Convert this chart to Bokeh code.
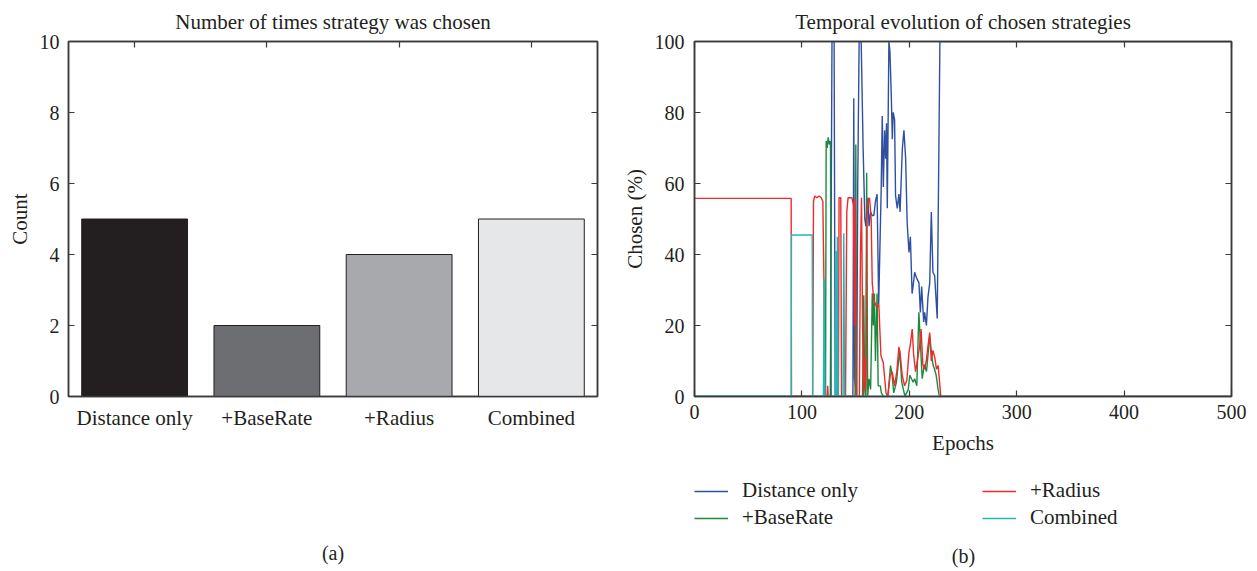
from bokeh.plotting import figure
from bokeh.models import (FactorRange, Range1d, LinearAxis, CategoricalAxis, FixedTicker,
                          Legend, LegendItem, CustomJSTickFormatter, Label)
from bokeh.layouts import row, column
from bokeh.embed import file_html
from bokeh.resources import INLINE

FONT = "Liberation Serif"
INK = "#231f20"
AX = "#3a3a3a"

# ---------------- data: panel (a) ----------------
strategies = ["Distance only", "+BaseRate", "+Radius", "Combined"]
counts = [5, 2, 4, 5]
bar_colors = ["#231f20", "#6d6e71", "#a7a9ac", "#e6e7e8"]

# ---------------- data: panel (b) ----------------
dist_x = [0, 126.5, 128, 130, 131, 147.5, 148.3, 149, 151, 152, 153.3, 155.2, 157, 158.6, 159.5,
          160.5, 161.5, 162.5, 164, 165.4, 167, 168.5, 170, 171.5, 173.8, 174.8, 175.8, 177, 178,
          178.8, 179.5, 181, 182, 183.3, 184.2, 185, 186.3, 187.2, 188.8, 190.3, 191.4, 193.5, 195,
          196.6, 198, 199.7, 201, 202.6, 203.5, 205, 206.6, 209, 210.3, 211.5, 213.4, 214.3, 215.9,
          217.4, 219, 220.5, 222, 223.6, 225, 226, 228.5, 500]
dist_y = [0, 0, 100, 100, 0, 0, 84, 5, 0, 60, 100, 100, 70, 50, 48,
          52, 56, 48, 52, 51, 51, 55, 57, 26, 58, 79, 59, 75, 67,
          77, 53, 100, 97, 84, 72.5, 80, 78, 56.6, 53, 57, 52, 69.7, 75,
          67, 49, 40.6, 45, 29, 31, 35, 33.5, 32, 23.7, 31, 21, 23.7, 20,
          28, 32, 52, 35, 34, 27, 22, 100, 100]

base_x = [0, 122, 122.6, 123.5, 124.5, 125.5, 126.6, 127.3, 149.5, 150.2, 151, 156.5, 157.6, 158.5,
          159.5, 160.3, 161.2, 162.5, 164, 165.5, 166.5, 167.5, 168.5, 170, 171, 173, 174, 176, 180,
          182.5, 184, 185.5, 188, 191, 193, 196, 199, 200.5, 203.6, 205, 207, 208.9, 210.5, 212, 214,
          216, 219, 220.5, 222, 223.5, 225, 226.6, 228, 500]
base_y = [0, 0, 72, 70, 73, 71, 72, 0, 0, 71, 0, 0, 28.5, 2,
          0, 63, 0, 5, 2, 29, 20, 29, 10, 29, 3, 3, 1, 0, 0,
          8.7, 6, 1, 4, 13, 4, 0, 2, 6, 4, 5, 3, 23.7, 14, 5, 9,
          7, 17, 12.5, 9, 7.7, 6, 2.5, 0, 0]

rad_x = [0, 90, 90.3, 110, 110.8, 112, 114, 116, 118, 119.5, 120.5, 121.2, 123.5, 124, 124.5, 132,
         132.8, 133.4, 134, 134.6, 136.2, 136.9, 140.6, 141.8, 143, 146.5, 148, 149, 149.7, 150.5,
         153.5, 154.5, 155.5, 156.5, 157.5, 158.5, 159.5, 160.5, 161.5, 163, 164.5, 165.5, 167, 170,
         171.6, 173.6, 175.8, 178.3, 180, 182.2, 184, 186.3, 188.4, 190.3, 191.5, 193.4, 195.6, 197.7,
         199.7, 200.9, 202.7, 204, 205.8, 208, 209.5, 211, 212.6, 214.2, 215.8, 217.3, 219, 220.5,
         222, 223.7, 225.3, 226.9, 229.3, 500]
rad_y = [55.8, 55.8, 0, 0, 55, 56.5, 56, 56.5, 56, 55, 33, 0, 0, 3, 0, 0,
         16, 0, 0, 56, 56, 0, 0, 52, 56, 56, 54, 20, 56, 0,
         0, 40, 56, 20, 0, 11, 2, 50, 55, 56, 50, 32, 27, 25,
         26, 11.5, 9.5, 1, 0, 6, 7, 3, 7, 14, 12, 6, 3, 4.5,
         12.5, 14.5, 19, 12, 7, 11, 14, 19, 9, 7.7, 10, 14, 18, 10,
         13, 11, 7.7, 8.7, 0, 0]

comb_x = [0, 90, 90.3, 109.6, 110, 120, 120.8, 121.4, 131, 131.8, 132.4, 133, 133.8, 138.3, 139,
          139.8, 500]
comb_y = [0, 0, 45.5, 45.5, 0, 0, 33, 0, 0, 41, 0, 45, 0, 0, 46,
          0, 0]

series_names = ["Distance only", "+BaseRate", "+Radius", "Combined"]
series_colors = ["#2f4fa3", "#1b8a3c", "#ee2a2a", "#22b8b8"]

empty_fmt = CustomJSTickFormatter(code="return ''")


def style_axis(ax, size="20px"):
    ax.axis_line_color = AX
    ax.axis_line_width = 1.5
    ax.major_tick_line_color = AX
    ax.major_tick_line_width = 1.2
    ax.major_tick_in = 6
    ax.major_tick_out = 0
    ax.minor_tick_line_color = None
    ax.major_label_text_font = FONT
    ax.major_label_text_font_size = size
    ax.major_label_text_color = INK
    ax.axis_label_text_font = FONT
    ax.axis_label_text_font_size = "21px"
    ax.axis_label_text_font_style = "normal"
    ax.axis_label_text_color = INK


def mirror_axis(ax):
    style_axis(ax)
    ax.major_label_standoff = 0


def style_title(p):
    p.title.text_font = FONT
    p.title.text_font_size = "21px"
    p.title.text_font_style = "normal"
    p.title.text_color = INK
    p.title.align = "center"
    p.title.standoff = 15


# ---------------- panel (a) ----------------
p1 = figure(x_range=FactorRange(factors=strategies), y_range=Range1d(0, 10),
            frame_width=529, frame_height=355,
            min_border_left=68, min_border_right=13, min_border_top=41, min_border_bottom=172,
            output_backend="svg", toolbar_location=None,
            title="Number of times strategy was chosen")
p1.vbar(x=strategies, top=counts, width=0.8, fill_color=bar_colors,
        line_color=INK, line_width=1)
p1.xgrid.visible = False
p1.ygrid.visible = False
p1.outline_line_color = AX
p1.outline_line_width = 1.5
style_title(p1)

style_axis(p1.xaxis[0], "21px")
p1.xaxis[0].major_tick_line_color = None
p1.xaxis[0].major_label_standoff = 9
p1.xaxis[0].axis_label = "(a)"
p1.xaxis[0].axis_label_text_font_size = "20px"
p1.xaxis[0].axis_label_standoff = 109
style_axis(p1.yaxis[0])
p1.yaxis[0].ticker = FixedTicker(ticks=[0, 2, 4, 6, 8, 10])
p1.yaxis[0].axis_label = "Count"
p1.yaxis[0].major_label_standoff = 9

top1 = CategoricalAxis(formatter=empty_fmt)
mirror_axis(top1)
p1.add_layout(top1, "above")
right1 = LinearAxis(ticker=FixedTicker(ticks=[0, 2, 4, 6, 8, 10]), formatter=empty_fmt)
mirror_axis(right1)
p1.add_layout(right1, "right")

# ---------------- panel (b) ----------------
p2 = figure(x_range=Range1d(0, 500), y_range=Range1d(0, 100),
            frame_width=537, frame_height=355,
            min_border_left=84, min_border_right=18, min_border_top=39, min_border_bottom=66,
            output_backend="svg", toolbar_location=None,
            title="Temporal evolution of chosen strategies")
p2.xgrid.visible = False
p2.ygrid.visible = False
p2.outline_line_color = AX
p2.outline_line_width = 1.5
style_title(p2)

style_axis(p2.xaxis[0])
p2.xaxis[0].ticker = FixedTicker(ticks=[0, 100, 200, 300, 400, 500])
p2.xaxis[0].axis_label = "Epochs"
p2.xaxis[0].major_label_standoff = 8
p2.xaxis[0].axis_label_standoff = 9
style_axis(p2.yaxis[0])
p2.yaxis[0].ticker = FixedTicker(ticks=[0, 20, 40, 60, 80, 100])
p2.yaxis[0].axis_label = "Chosen (%)"
p2.yaxis[0].major_label_standoff = 10

top2 = LinearAxis(ticker=FixedTicker(ticks=[0, 100, 200, 300, 400, 500]), formatter=empty_fmt)
mirror_axis(top2)
p2.add_layout(top2, "above")
right2 = LinearAxis(ticker=FixedTicker(ticks=[0, 20, 40, 60, 80, 100]), formatter=empty_fmt)
mirror_axis(right2)
p2.add_layout(right2, "right")

xs = [dist_x, base_x, rad_x, comb_x]
ys = [dist_y, base_y, rad_y, comb_y]
for col, x, y in zip(series_colors, xs, ys):
    p2.line(x, y, line_color=col, line_width=1.4)

# ---------------- legend + caption strip under panel (b) ----------------
# same series, drawn into a range where they are out of view: only the legend keys show
p3 = figure(x_range=Range1d(0, 500), y_range=Range1d(1000, 1001),
            frame_width=537, frame_height=108,
            min_border_left=84, min_border_right=18, min_border_top=0, min_border_bottom=0,
            x_axis_location=None, y_axis_location=None,
            output_backend="svg", toolbar_location=None)
p3.xgrid.visible = False
p3.ygrid.visible = False
p3.outline_line_color = None

items = []
for name, col, x, y in zip(series_names, series_colors, xs, ys):
    key = p3.line(x, y, line_color=col, line_width=1.4)
    items.append(LegendItem(label=name, renderers=[key]))

legend = Legend(items=items, location=(0, 40), orientation="vertical", ncols=2,
                label_text_font=FONT, label_text_font_size="21px", label_text_color=INK,
                glyph_width=34, glyph_height=20, label_standoff=14, label_height=20,
                label_width=238, spacing=2, padding=0, margin=0,
                border_line_color=None, background_fill_alpha=0)
p3.add_layout(legend)

p3.add_layout(Label(x=269, y=15, x_units="screen", y_units="screen", text="(b)",
                    text_align="center", text_baseline="middle", text_font=FONT,
                    text_font_size="20px", text_color=INK))

layout = row(p1, column(p2, p3))
open("out.html", "w").write(file_html(layout, INLINE))
